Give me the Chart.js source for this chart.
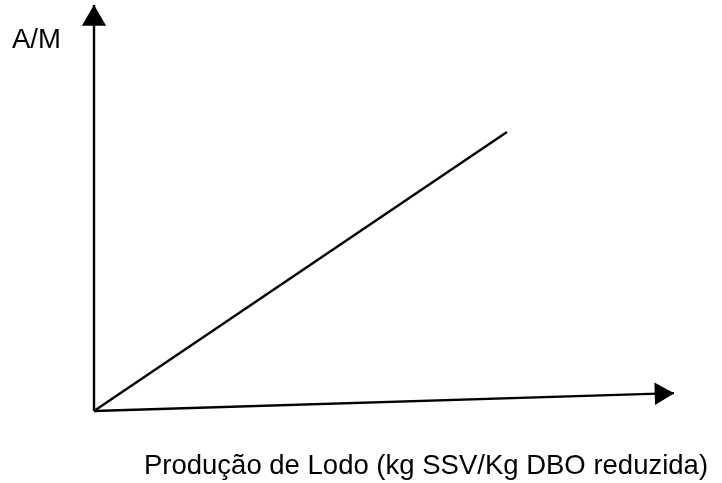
<!DOCTYPE html>
<html>
<head>
<meta charset="utf-8">
<script src="https://cdn.jsdelivr.net/npm/chart.js@4/dist/chart.umd.min.js"></script>
<style>
  html, body { margin: 0; padding: 0; background: #fff; }
  #wrap { width: 722px; height: 483px; }
</style>
</head>
<body>
<div id="wrap"><canvas id="chart"></canvas></div>
<script>
// schematic: sludge production vs F/M, values in arbitrary units
const yAxisLine = [{ x: 0, y: 0 }, { x: 0, y: 10 }];
const xAxisLine = [{ x: 0, y: 0 }, { x: 10, y: 0.44 }];
const trendLine = [{ x: 0, y: 0 }, { x: 7.12, y: 6.87 }];
const yArrow = [{ x: 0, y: 9.66 }];
const xArrow = [{ x: 9.78, y: 0.43 }];

const yLabel = "A/M";
const xLabel = "Produção de Lodo (kg SSV/Kg DBO reduzida)";

const labelsPlugin = {
  id: "labels",
  afterDraw(chart) {
    const c = chart.ctx;
    c.save();
    c.fillStyle = "#000";
    c.font = "27.5px 'Liberation Sans', Arial, sans-serif";
    c.textBaseline = "alphabetic";
    c.textAlign = "left";
    c.fillText(yLabel, 12, 48);
    c.textAlign = "center";
    c.fillText(xLabel, 426, 474);
    c.restore();
  }
};

function lineSet(data) {
  return {
    data: data,
    showLine: true,
    borderColor: "#000",
    borderWidth: 2.4,
    pointRadius: 0,
    clip: false
  };
}

function arrowSet(data, rotation, radius) {
  return {
    data: data,
    showLine: false,
    pointStyle: "triangle",
    rotation: rotation,
    pointRadius: radius,
    backgroundColor: "#000",
    borderColor: "#000",
    borderWidth: 0,
    clip: false
  };
}

new Chart(document.getElementById("chart"), {
  type: "scatter",
  data: {
    datasets: [
      lineSet(yAxisLine),
      lineSet(xAxisLine),
      lineSet(trendLine),
      arrowSet(yArrow, 0, 14),
      arrowSet(xArrow, 88.3, 13)
    ]
  },
  options: {
    responsive: true,
    maintainAspectRatio: false,
    animation: false,
    layout: { autoPadding: false, padding: { left: 94, right: 48, top: 5, bottom: 72 } },
    plugins: { legend: { display: false }, tooltip: { enabled: false } },
    scales: {
      x: { type: "linear", min: 0, max: 10, display: false },
      y: { type: "linear", min: 0, max: 10, display: false }
    }
  },
  plugins: [labelsPlugin]
});
</script>
</body>
</html>
